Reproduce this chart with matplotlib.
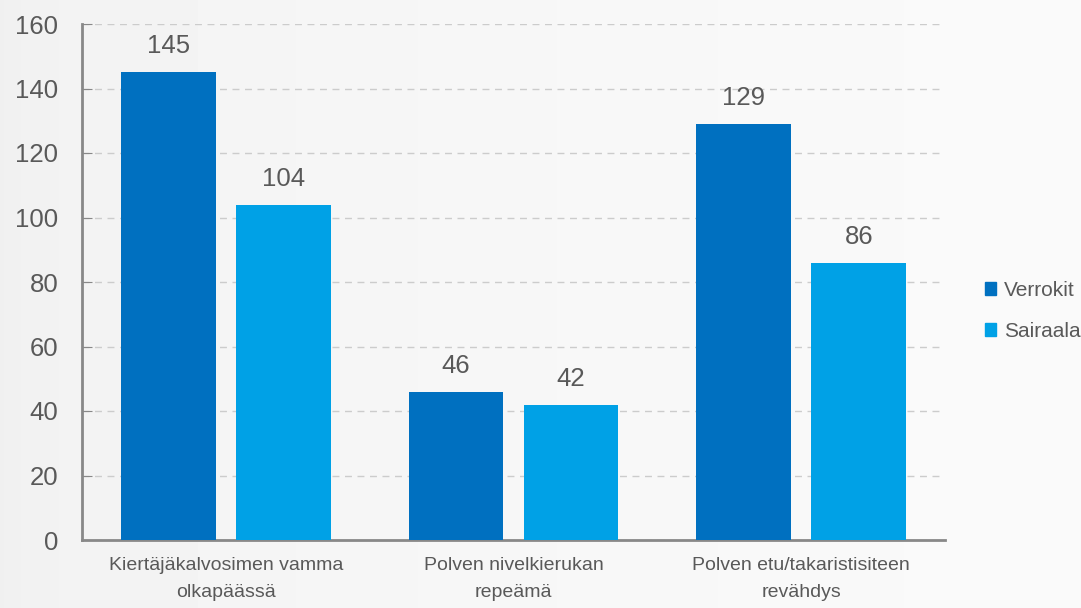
import numpy as np
import matplotlib
matplotlib.use("Agg")
import matplotlib.pyplot as plt
from matplotlib.patches import Patch

plt.rcParams['font.family'] = ['Liberation Sans', 'DejaVu Sans']

# -------------------- Data --------------------
categories = ["Kiertäjäkalvosimen vamma\nolkapäässä",
              "Polven nivelkierukan\nrepeämä",
              "Polven etu/takaristisiteen\nrevähdys"]
series_names = ["Verrokit", "Sairaala"]
verrokit = [145, 46, 129]
sairaala = [104, 42, 86]
yticks = [0, 20, 40, 60, 80, 100, 120, 140, 160]

# -------------------- Style --------------------
c_dark = '#0070C0'
c_light = '#00A1E6'
txt = '#595959'
bar_w = 0.33
offset = 0.2

fig = plt.figure(figsize=(10.81, 6.08), dpi=100)

# soft gray background gradient
bg = fig.add_axes([0, 0, 1, 1], zorder=-10)
xx = np.linspace(0, 1, 256)
grad = np.tile(0.94 + 0.04 * np.sqrt(xx), (16, 1))
bg.imshow(grad, cmap='gray', vmin=0, vmax=1, aspect='auto', extent=[0, 1, 0, 1])
bg.set_axis_off()

ax = fig.add_axes([82 / 1081, 1 - 540 / 608, (945 - 82) / 1081, (540 - 24) / 608])
ax.patch.set_alpha(0)

x = np.arange(len(categories))
b1 = ax.bar(x - offset, verrokit, bar_w, color=c_dark, label=series_names[0], zorder=3)
b2 = ax.bar(x + offset, sairaala, bar_w, color=c_light, label=series_names[1], zorder=3)

for bars in (b1, b2):
    ax.bar_label(bars, padding=10, fontsize=18.5, color=txt)

ax.set_xlim(-0.5, 2.5)
ax.set_ylim(0, 160)
ax.set_yticks(yticks)
ax.set_xticks(x)
ax.set_xticklabels(categories, fontsize=14, color=txt, linespacing=1.8)
ax.tick_params(axis='x', length=0, pad=12)
ax.tick_params(axis='y', direction='in', length=7, color='#888888', labelsize=18.5,
               labelcolor=txt, pad=17)

ax.grid(axis='y', linestyle=(0, (5, 4)), color='#cccccc', linewidth=1, zorder=0)
for s in ('top', 'right'):
    ax.spines[s].set_visible(False)
for s in ('left', 'bottom'):
    ax.spines[s].set_color('#888888')
    ax.spines[s].set_linewidth(2)

handles = [Patch(color=c_dark), Patch(color=c_light)]
fig.legend(handles, series_names, loc='center left', bbox_to_anchor=(985 / 1081, 1 - 311 / 608),
           frameon=False, fontsize=15, labelcolor=txt, handlelength=0.55, handleheight=0.55,
           handletextpad=0.35, labelspacing=1.05, borderaxespad=0, borderpad=0)

fig.savefig('out.png', dpi=100, facecolor=fig.get_facecolor())
